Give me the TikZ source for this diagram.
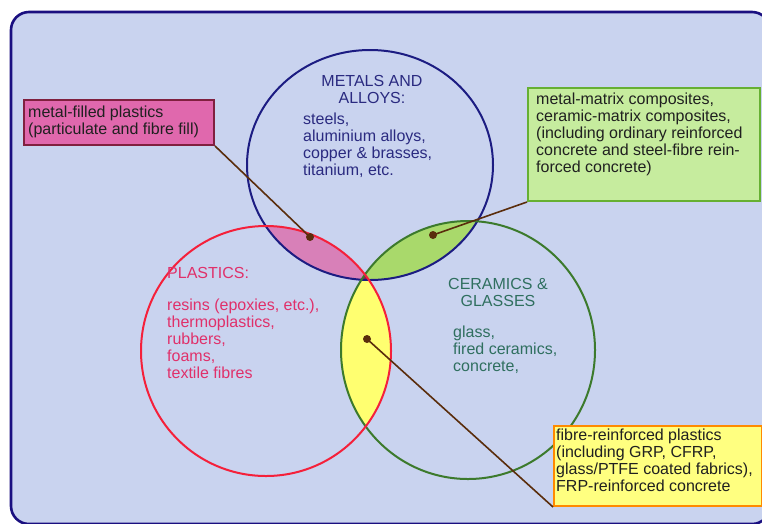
\documentclass[tikz,border=0pt]{standalone}
\usepackage{fontspec}
\setmainfont{Liberation Sans}
\definecolor{bgc}{HTML}{C9D3EF}
\definecolor{framec}{HTML}{1A0F80}
\definecolor{metc}{HTML}{1C1C82}
\definecolor{plac}{HTML}{F5203A}
\definecolor{cerc}{HTML}{3C7A2C}
\definecolor{pinkreg}{HTML}{D880B8}
\definecolor{greenreg}{HTML}{A9D96B}
\definecolor{yellowreg}{HTML}{FFFF70}
\definecolor{centerreg}{HTML}{8C1F4A}
\definecolor{pinkbox}{HTML}{E068AD}
\definecolor{pinkborder}{HTML}{80203F}
\definecolor{greenbox}{HTML}{C6EC9E}
\definecolor{greenborder}{HTML}{66B032}
\definecolor{yellowbox}{HTML}{FFFF80}
\definecolor{yellowborder}{HTML}{FF8A00}
\definecolor{conc}{HTML}{5A2D0C}
\definecolor{mettext}{HTML}{2A2A80}
\definecolor{platext}{HTML}{E0306A}
\definecolor{certext}{HTML}{2F6F5F}
\definecolor{boxtext}{HTML}{202020}
\begin{document}
\begin{tikzpicture}[x=1pt,y=-1pt,
  txt/.style={font=\fontsize{16}{17}\selectfont, inner sep=0pt, align=left, anchor=north west},
  ctxt/.style={txt, align=center, anchor=north},
  boxshape/.style={draw, line width=2pt, inner sep=0pt, anchor=north west},
  ring/.style={line width=2pt},
  con/.style={draw=conc, line width=1.6pt},
  dot/.style={fill=conc}
]
\useasboundingbox (0,0) rectangle (762,523);
\fill[white] (0,0) rectangle (762,523);
\draw[fill=bgc, draw=framec, line width=2.6pt, rounded corners=18pt] (11,12) rectangle (770,524);

% intersection fills
\begin{scope}
  \clip (370,165) ellipse [x radius=123pt, y radius=115pt];
  \fill[pinkreg] (266,351) ellipse [x radius=125pt, y radius=125pt];
  \fill[greenreg] (468,350) ellipse [x radius=127pt, y radius=129pt];
\end{scope}
\begin{scope}
  \clip (266,351) ellipse [x radius=125pt, y radius=125pt];
  \fill[yellowreg] (468,350) ellipse [x radius=127pt, y radius=129pt];
  \clip (370,165) ellipse [x radius=123pt, y radius=115pt];
  \fill[centerreg] (468,350) ellipse [x radius=127pt, y radius=129pt];
\end{scope}

% circles
\draw[ring, metc] (370,165) ellipse [x radius=123pt, y radius=115pt];
\draw[ring, cerc] (468,350) ellipse [x radius=127pt, y radius=129pt];
\draw[ring, plac] (266,351) ellipse [x radius=125pt, y radius=125pt];

% circle texts
\node[ctxt, text=mettext] (mettitle) at (372,74.1) {\strut METALS AND\\ALLOYS:};
\node[txt, text=mettext] (metlist) at (303,112.1) {\strut steels,\\aluminium alloys,\\copper \& brasses,\\titanium, etc.};
\node[txt, text=platext] (platitle) at (167,266.1) {\strut PLASTICS:};
\node[txt, text=platext] (plalist) at (167,298.1) {\strut resins (epoxies, etc.),\\thermoplastics,\\rubbers,\\foams,\\textile fibres};
\node[ctxt, text=certext] (certitle) at (498,277.1) {\strut CERAMICS \&\\GLASSES};
\node[txt, text=certext] (cerlist) at (453,325.1) {\strut glass,\\fired ceramics,\\concrete,};

% boxes
\node[boxshape, fill=pinkbox, draw=pinkborder, minimum width=190pt, minimum height=45pt] (pbox) at (23,99) {};
\node[txt, text=boxtext] (ptext) at (28,105.1) {\strut metal-filled plastics\\(particulate and fibre fill)};
\node[boxshape, fill=greenbox, draw=greenborder, minimum width=232pt, minimum height=113pt] (gbox) at (527,87) {};
\node[txt, text=boxtext] (gtext) at (536,92.1) {\strut metal-matrix composites,\\ceramic-matrix composites,\\(including ordinary reinforced\\concrete and steel-fibre rein-\\forced concrete)};
\node[boxshape, fill=yellowbox, draw=yellowborder, minimum width=208pt, minimum height=80pt] (ybox) at (553,425) {};
\node[txt, text=boxtext] (ytext) at (556,428.1) {\strut fibre-reinforced plastics\\(including GRP, CFRP,\\glass/PTFE coated fabrics),\\FRP-reinforced concrete};

% connectors
\coordinate (pdot) at (310,237);
\coordinate (gdot) at (433,235);
\coordinate (ydot) at (367,339);
\draw[con] (pbox.south east) -- (pdot);
\draw[con] (gbox.south west) -- (gdot);
\draw[con] (ybox.south west) -- (ydot);
\fill[dot] (pdot) circle (4pt);
\fill[dot] (gdot) circle (4pt);
\fill[dot] (ydot) circle (4pt);
\end{tikzpicture}
\end{document}
